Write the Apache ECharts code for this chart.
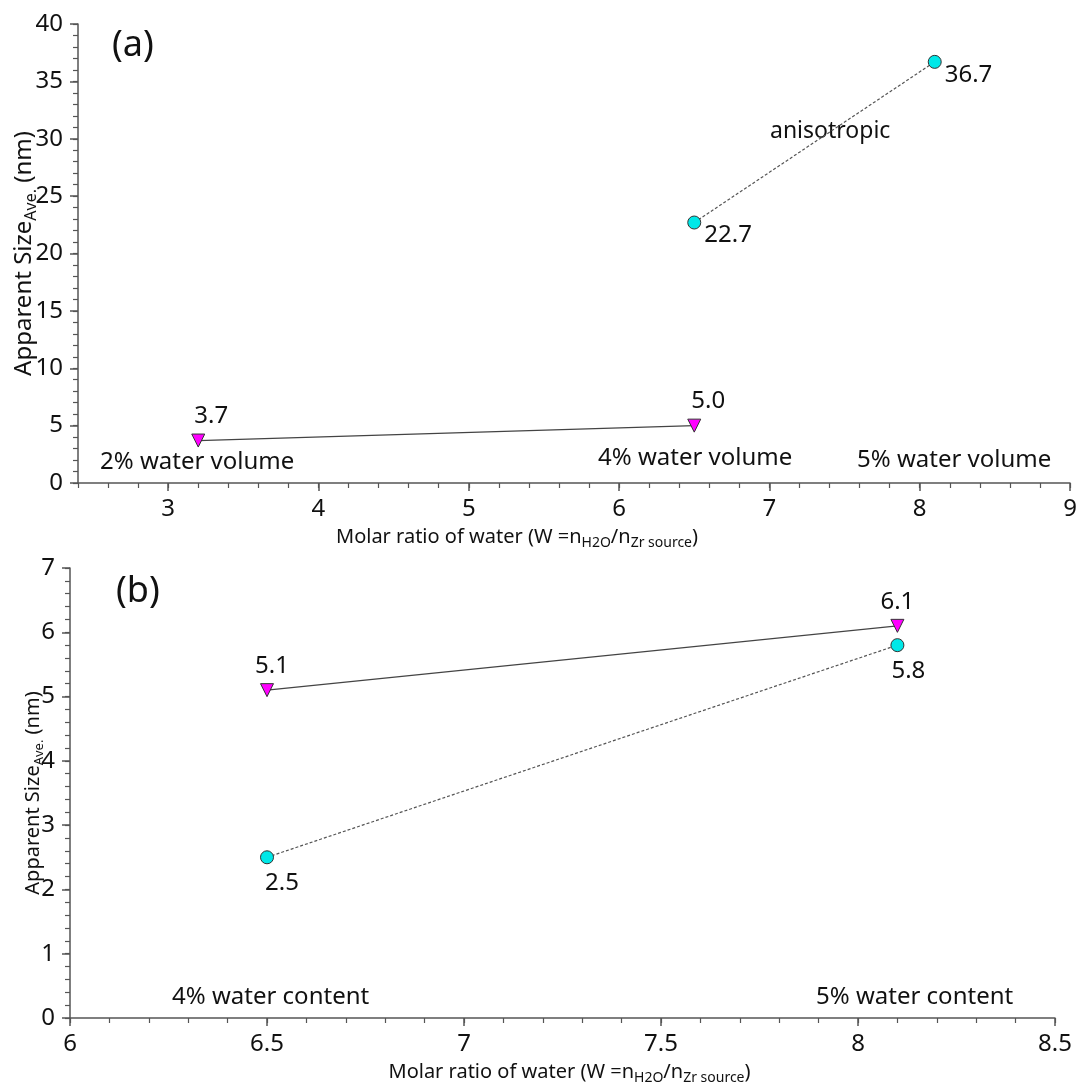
<!DOCTYPE html>
<html><head><meta charset="utf-8">
<script src="https://cdn.jsdelivr.net/npm/echarts@6/dist/echarts.min.js"></script>
<style>html,body{margin:0;padding:0;background:#fff}#c{width:1082px;height:1086px}</style>
</head><body><div id="c"></div>
<script>
// ---- data ----
const triA_x = [3.2, 6.5];
const triA_y = [3.7, 5.0];
const cirA_x = [6.5, 8.1];
const cirA_y = [22.7, 36.7];
const triB_x = [6.5, 8.1];
const triB_y = [5.1, 6.1];
const cirB_x = [6.5, 8.1];
const cirB_y = [2.5, 5.8];
const xTicksA = [3, 4, 5, 6, 7, 8, 9];
const yTicksA = [0, 5, 10, 15, 20, 25, 30, 35, 40];
const xTicksB = [6, 6.5, 7, 7.5, 8, 8.5];
const yTicksB = [0, 1, 2, 3, 4, 5, 6, 7];

// ---- styles ----
const FONT = 'Noto Sans';
const TXT = '#111';
const AX = '#555';
const triOffA = [[13, 0], [14, 0]];
const cirOffA = [[0, 13], [0, 13]];
const triOffB = [[5, 0], [0, 0]];
const cirOffB = [[15, 4], [11, 4]];

function pts(xs, ys, offs) {
  return xs.map((x, i) => ({ value: [x, ys[i]], label: { offset: offs[i] } }));
}
const xName = '{a|Molar ratio of water (W =n}{s|H2O}{a|/n}{s|Zr source}{a|)}';
const yName = '{a|Apparent Size}{s|Ave.}{a| (nm)}';
function xNameStyle(pad) {
  return { padding: pad, rich: {
    a: { fontSize: 20, fontFamily: FONT, color: TXT, lineHeight: 24, verticalAlign: 'bottom' },
    s: { fontSize: 14, fontFamily: FONT, color: TXT, lineHeight: 14, verticalAlign: 'bottom', padding: [0, 0, -3, 0] }
  } };
}
function yNameStyle(big, small) {
  return { rich: {
    a: { fontSize: big, fontFamily: FONT, color: TXT, lineHeight: big + 4, verticalAlign: 'bottom' },
    s: { fontSize: small, fontFamily: FONT, color: TXT, lineHeight: small, verticalAlign: 'bottom', padding: [0, 0, -3, 0] }
  } };
}
const lbl = { fontSize: 24, fontFamily: FONT, color: TXT };

function majorX(grid, min, max, ticks, gap, pad) {
  return { gridIndex: grid, type: 'value', position: 'bottom', min: min, max: max,
    axisLine: { show: true, onZero: false, lineStyle: { color: AX, width: 1.5 } },
    axisTick: { show: true, length: 8, customValues: ticks, lineStyle: { color: AX, width: 1.5 } },
    axisLabel: { customValues: ticks, margin: 14, ...lbl },
    splitLine: { show: false },
    name: xName, nameLocation: 'middle', nameGap: gap, nameMoveOverlap: false, nameTextStyle: xNameStyle(pad) };
}
function minorX(grid, min, max, step) {
  return { gridIndex: grid, type: 'value', position: 'bottom', min: min, max: max, interval: step,
    axisLine: { show: false, onZero: false }, axisLabel: { show: false }, splitLine: { show: false },
    axisTick: { show: true, length: 5, lineStyle: { color: AX, width: 1.2 } } };
}
function majorY(grid, min, max, ticks, gap, big, small) {
  return { gridIndex: grid, type: 'value', position: 'left', min: min, max: max,
    axisLine: { show: true, onZero: false, lineStyle: { color: AX, width: 1.5 } },
    axisTick: { show: true, length: 8, customValues: ticks, lineStyle: { color: AX, width: 1.5 } },
    axisLabel: { customValues: ticks, margin: 15, ...lbl },
    splitLine: { show: false },
    name: yName, nameLocation: 'middle', nameRotate: 90, nameGap: gap, nameMoveOverlap: false, nameTextStyle: yNameStyle(big, small) };
}
function minorY(grid, min, max, step) {
  return { gridIndex: grid, type: 'value', position: 'left', min: min, max: max, interval: step,
    axisLine: { show: false, onZero: false }, axisLabel: { show: false }, splitLine: { show: false },
    axisTick: { show: true, length: 5, lineStyle: { color: AX, width: 1.2 } } };
}
function triSeries(xi, data) {
  return { type: 'line', xAxisIndex: xi, yAxisIndex: xi, data: data,
    symbol: 'triangle', symbolRotate: 180, symbolSize: 13,
    itemStyle: { color: '#ff00ff', borderColor: '#333', borderWidth: 1 },
    lineStyle: { color: '#444', width: 1.3 },
    label: { show: true, position: 'top', distance: 5, ...lbl, formatter: p => p.value[1].toFixed(1) } };
}
function cirSeries(xi, data, pos) {
  return { type: 'line', xAxisIndex: xi, yAxisIndex: xi, data: data,
    symbol: 'circle', symbolSize: 13,
    itemStyle: { color: '#00e8e8', borderColor: '#333', borderWidth: 1 },
    lineStyle: { color: '#555', width: 1.2, type: [3, 2] },
    label: { show: true, position: pos, distance: 3, ...lbl, formatter: p => p.value[1].toFixed(1) } };
}
function txt(x, y, s, size) {
  return { type: 'text', x: x, y: y, style: { text: s, fontSize: size, fontFamily: FONT, fill: TXT, verticalAlign: 'middle' } };
}

const chart = echarts.init(document.getElementById('c'), null, { renderer: 'canvas' });
chart.setOption({
  animation: false,
  backgroundColor: '#fff',
  grid: [
    { left: 78, top: 24, width: 992, height: 459, containLabel: false },
    { left: 70, top: 568, width: 985, height: 453, containLabel: false }
  ],
  xAxis: [
    majorX(0, 2.4, 9, xTicksA, 40, [0, 114, 0, 0]),
    minorX(0, 2.4, 9, 0.2),
    majorX(1, 6, 8.5, xTicksB, 40, [0, 0, 0, 14]),
    minorX(1, 6, 8.5, 0.1)
  ],
  yAxis: [
    majorY(0, 0, 40, yTicksA, 42, 24, 16),
    minorY(0, 0, 40, 1),
    majorY(1, 0, 7, yTicksB, 27, 20, 13),
    minorY(1, 0, 7, 0.2)
  ],
  series: [
    triSeries(0, pts(triA_x, triA_y, triOffA)),
    cirSeries(0, pts(cirA_x, cirA_y, cirOffA), 'right'),
    triSeries(2, pts(triB_x, triB_y, triOffB)),
    cirSeries(2, pts(cirB_x, cirB_y, cirOffB), 'bottom')
  ],
  graphic: [
    txt(112, 46, '(a)', 36),
    txt(770, 131, 'anisotropic', 23),
    txt(100, 462, '2% water volume', 24),
    txt(598, 458, '4% water volume', 24),
    txt(857, 460, '5% water volume', 24),
    txt(116, 592, '(b)', 36),
    txt(172, 997, '4% water content', 24),
    txt(816, 997, '5% water content', 24)
  ]
});
</script>
</body></html>
